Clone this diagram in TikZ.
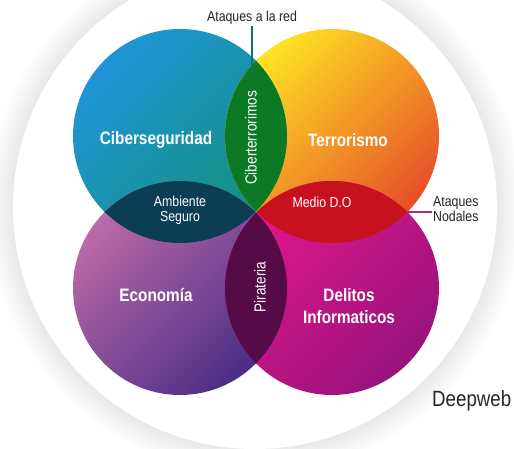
\documentclass[tikz,border=0pt]{standalone}
\usepackage{fontspec}
\setmainfont{Liberation Sans}
\newfontfamily\narrowfont[FakeStretch=0.85]{Liberation Sans}
\usepackage{tikz}
\definecolor{cibA}{HTML}{1F95D8}
\definecolor{cibB}{HTML}{14907C}
\definecolor{terA}{HTML}{FFE422}
\definecolor{terM}{HTML}{F59A22}
\definecolor{terB}{HTML}{E64E2A}
\definecolor{ecoA}{HTML}{BC6AA8}
\definecolor{ecoB}{HTML}{4A2D85}
\definecolor{delA}{HTML}{E2178A}
\definecolor{delB}{HTML}{98137C}
\definecolor{lensG}{HTML}{0C7A25}
\definecolor{lensN}{HTML}{0B3D55}
\definecolor{lensR}{HTML}{C8111F}
\definecolor{lensP}{HTML}{550B45}
\colorlet{dteal}{cibB!80!black}
\colorlet{dmag}{delB!90!white}
\newcommand\circr{107}
\tikzstyle{big}=[text=white,align=center,font=\narrowfont\bfseries\fontsize{18}{22}\selectfont]
\tikzstyle{small}=[text=white,align=center,font=\narrowfont\fontsize{14.5}{15}\selectfont]
\tikzstyle{side}=[small,font=\narrowfont\fontsize{16}{18}\selectfont,rotate=90]
\tikzstyle{note}=[text=black!85,inner sep=1pt,font=\narrowfont\fontsize{14.5}{12.5}\selectfont]
\tikzstyle{tick}=[line width=1.3pt]

\begin{document}
\begin{tikzpicture}[x=1pt,y=1pt]
	\useasboundingbox (0,0) rectangle (514,449);
	\clip (0,0) rectangle (514,449);
	% halo and white disc
	\coordinate (o) at (255,242);
	\foreach \k in {1,...,22} \fill[black,opacity=.005] (o) circle (242+1.2*\k);
	\fill[white] (o) circle (242);
	% the four sets
	\coordinate (cs) at (180,313);
	\coordinate (te) at (332,313);
	\coordinate (ec) at (180,161);
	\coordinate (de) at (332,161);
	\shade[top color=cibA,bottom color=cibB,shading angle=45] (cs) circle (\circr);
	\shade[top color=terA,middle color=terM,bottom color=terB,shading angle=45] (te) circle (\circr);
	\shade[top color=ecoA,bottom color=ecoB,shading angle=45] (ec) circle (\circr);
	\shade[top color=delA,bottom color=delB,shading angle=45] (de) circle (\circr);
	% overlaps
	\begin{scope} \clip (cs) circle (\circr); \fill[lensG] (te) circle (\circr); \end{scope}
	\begin{scope} \clip (cs) circle (\circr); \fill[lensN] (ec) circle (\circr); \end{scope}
	\begin{scope} \clip (te) circle (\circr); \fill[lensR] (de) circle (\circr); \end{scope}
	\begin{scope} \clip (ec) circle (\circr); \fill[lensP] (de) circle (\circr); \end{scope}
	% labels
	\node[big] (cib) at (156,309) {Ciberseguridad};
	\node[big] (ter) at (348,309) {Terrorismo};
	\node[big] (eco) at (156,154) {Economía};
	\node[big] (del) at (349,143) {Delitos\\Informaticos};
	\node[small] (amb) at (180,239) {Ambiente\\Seguro};
	\node[small] (med) at (322,247) {Medio D.O};
	\node[side] (cter) at (251,311) {Ciberterrorimos};
	\node[side] (pir) at (260,162) {Pirateria};
	% outside notes
	\node[note,anchor=base] (ared) at (252,427) {Ataques a la red};
	\coordinate (gtop) at (253,378);
	\draw[tick,dteal,line width=1.2pt] (ared.south) -- (ared.south |- gtop);
	\node[note,anchor=west,align=left] (anod) at (432,240) {Ataques\\Nodales};
	\coordinate (rtip) at (407.5,237);
	\draw[tick,dmag] (rtip) -- (anod.west |- rtip);
	\node[note,anchor=base west,font=\narrowfont\fontsize{22}{24}\selectfont] (dweb) at (431,42) {Deepweb};
\end{tikzpicture}
\end{document}
